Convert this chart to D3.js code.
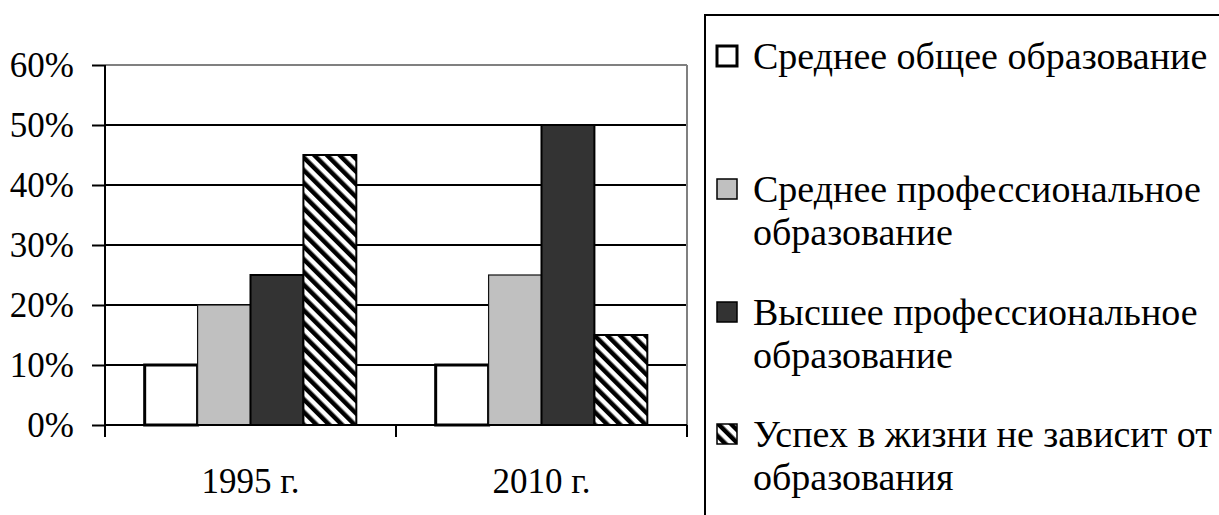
<!DOCTYPE html>
<html>
<head>
<meta charset="utf-8">
<script src="https://cdn.jsdelivr.net/npm/d3@7"></script>
<style>
  html, body { margin: 0; padding: 0; background: #fff; overflow: hidden; }
  svg { display: block; font-family: "Liberation Serif", "Times New Roman", serif; }
</style>
</head>
<body>
<svg id="chart" width="1219" height="515"></svg>
<script>
const years = ["1995 г.", "2010 г."];
const seriesNames = [
    "Среднее общее образование",
    "Среднее профессиональное образование",
    "Высшее профессиональное образование",
    "Успех в жизни не зависит от образования"
];
// legend text split into lines as in the picture
const legendLines = [
    ["Среднее общее образование"],
    ["Среднее профессиональное", "образование"],
    ["Высшее профессиональное", "образование"],
    ["Успех в жизни не зависит от", "образования"]
];
const sredneeObshee = [0.10, 0.10];
const sredneeProf = [0.20, 0.25];
const vyssheeProf = [0.25, 0.50];
const neZavisit = [0.45, 0.15];
const yTicks = [0, 0.1, 0.2, 0.3, 0.4, 0.5, 0.6];

const seriesValues = [sredneeObshee, sredneeProf, vyssheeProf, neZavisit];
const styles = [
    { fill: "#ffffff", stroke: "#000", sw: 3 },
    { fill: "#c0c0c0", stroke: "#111", sw: 1.2 },
    { fill: "#333333", stroke: "#000", sw: 2 },
    { fill: "url(#hatch)", stroke: "#000", sw: 2 }
];

const svg = d3.select("#chart");
const fontSize = 35;
const legendFont = 38;

const defs = svg.append("defs");
const hw = 9;
const pat = defs.append("pattern")
    .attr("id", "hatch").attr("patternUnits", "userSpaceOnUse")
    .attr("width", hw).attr("height", hw)
    .attr("patternTransform", "rotate(-45)");
pat.append("rect").attr("width", hw).attr("height", hw).attr("fill", "#fff");
pat.append("rect").attr("width", hw / 2).attr("height", hw).attr("fill", "#000");

const plotL = 105, plotR = 687, plotT = 65, plotB = 425;

const x0 = d3.scaleBand().domain(years).range([plotL, plotR]).padding(0);
const x1 = d3.scaleBand().domain(d3.range(seriesNames.length))
    .range([0, x0.bandwidth()]).paddingInner(0).paddingOuter(0.75);
const y = d3.scaleLinear().domain([0, 0.6]).range([plotB, plotT]);

// gridlines
svg.append("g").selectAll("line").data(yTicks.filter(d => d > 0))
    .join("line")
    .attr("x1", plotL).attr("x2", plotR)
    .attr("y1", d => y(d)).attr("y2", d => y(d))
    .attr("stroke", d => d === 0.6 ? "#808080" : "#000")
    .attr("stroke-width", 2);
svg.append("line")
    .attr("x1", plotR).attr("x2", plotR).attr("y1", y(0.6)).attr("y2", y(0))
    .attr("stroke", "#808080").attr("stroke-width", 2);

// bars
const groups = svg.append("g").selectAll("g").data(years).join("g")
    .attr("transform", d => `translate(${x0(d)},0)`);
groups.selectAll("rect")
    .data((yr, i) => seriesValues.map((vals, s) => ({ s, v: vals[i] })))
    .join("rect")
    .attr("x", d => x1(d.s))
    .attr("width", x1.bandwidth())
    .attr("y", d => y(d.v))
    .attr("height", d => y(0) - y(d.v))
    .attr("fill", d => styles[d.s].fill)
    .attr("stroke", d => styles[d.s].stroke)
    .attr("stroke-width", d => styles[d.s].sw);

// y axis
const yAxis = svg.append("g").attr("transform", `translate(${plotL},0)`)
    .call(d3.axisLeft(y).tickValues(yTicks).tickFormat(d3.format(".0%"))
        .tickSize(13).tickPadding(18));
yAxis.attr("font-family", null);
yAxis.select(".domain").attr("d", `M0,${plotT}V${plotB + 12}`)
    .attr("stroke", "#000").attr("stroke-width", 2);
yAxis.selectAll(".tick line").attr("stroke", "#000").attr("stroke-width", 2);
yAxis.selectAll(".tick text").attr("font-size", fontSize).attr("fill", "#000");

// x axis
const xAxis = svg.append("g").attr("transform", `translate(0,${plotB})`);
xAxis.append("line").attr("x1", plotL).attr("x2", plotR)
    .attr("stroke", "#000").attr("stroke-width", 2);
xAxis.selectAll(".xt").data(years.map(d => x0(d)).concat([plotR]))
    .join("line").attr("class", "xt")
    .attr("x1", d => d).attr("x2", d => d).attr("y1", 0).attr("y2", 12)
    .attr("stroke", "#000").attr("stroke-width", 2);
xAxis.selectAll("text").data(years).join("text")
    .attr("x", d => x0(d) + x0.bandwidth() / 2)
    .attr("y", 68)
    .attr("text-anchor", "middle")
    .attr("font-size", fontSize)
    .text(d => d);

// legend
svg.append("rect")
    .attr("x", 705).attr("y", 15).attr("width", 540).attr("height", 540)
    .attr("fill", "none").attr("stroke", "#000").attr("stroke-width", 2);
const legendBase = [69, 202, 325, 447];
const lineH = 43;
const lg = svg.append("g").selectAll("g").data(legendLines).join("g")
    .attr("transform", (d, i) => `translate(0,${legendBase[i]})`);
lg.append("rect")
    .attr("x", 717).attr("y", -23).attr("width", 20).attr("height", 20)
    .attr("fill", (d, i) => styles[i].fill)
    .attr("stroke", "#000")
    .attr("stroke-width", (d, i) => i === 0 ? 3 : 1.5);
lg.append("text")
    .attr("x", 753)
    .attr("font-size", legendFont)
    .selectAll("tspan").data(d => d).join("tspan")
    .attr("x", 753).attr("y", (d, j) => j * lineH)
    .text(d => d);
</script>
</body>
</html>
